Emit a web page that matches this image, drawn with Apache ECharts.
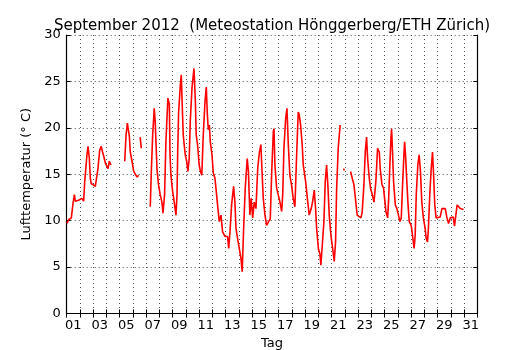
<!DOCTYPE html>
<html>
<head>
<meta charset="utf-8">
<script src="https://cdn.jsdelivr.net/npm/echarts@6/dist/echarts.min.js"></script>
<style>
  html, body { margin: 0; padding: 0; background: #fff; }
  #chart { width: 530px; height: 350px; }
</style>
</head>
<body>
<div id="chart"></div>
<script>
// ---------- data ----------
// day labels (each label sits in the middle of its day band)
const dayLabels = ['01', '02', '03', '04', '05', '06', '07', '08', '09', '10', '11', '12', '13', '14', '15', '16',
  '17', '18', '19', '20', '21', '22', '23', '24', '25', '26', '27', '28', '29', '30', '31'];

// time in days since 1 Sep 00:00 (null temp = data gap)
const days = [
  0.02, 0.15, 0.35, 0.48, 0.58, 0.65, 0.9, 1.15, 1.28, 1.36, 1.53, 1.61, 1.71, 1.78, 1.85, 1.96, 2.16, 2.29, 2.36, 2.49,
  2.61, 2.71, 2.84, 2.92, 3.0, 3.12, 3.22, 3.34, 3.8,
  4.38, 4.48, 4.58, 4.65, 4.73, 4.8, 4.93, 5.06, 5.18, 5.31, 5.43, 5.5,
  5.55, 5.63, 6.0,
  6.31, 6.39, 6.49, 6.61, 6.68, 6.82, 6.94, 7.06, 7.19, 7.27, 7.39, 7.49, 7.56, 7.64, 7.7, 7.75, 7.8, 7.87, 8.0, 8.12,
  8.25, 8.33, 8.38, 8.45, 8.58, 8.65, 8.72, 8.8, 8.87, 8.95, 9.06, 9.15, 9.25, 9.33, 9.46, 9.61, 9.71, 9.78, 9.88, 10.0,
  10.1, 10.2, 10.3, 10.44, 10.54, 10.62, 10.69, 10.77, 10.84, 10.97, 11.07, 11.19, 11.27, 11.39, 11.52, 11.65, 11.77,
  11.95, 12.15, 12.23, 12.33, 12.45, 12.6, 12.7, 12.78, 12.9, 13.03, 13.16, 13.25, 13.36, 13.48, 13.63, 13.72, 13.83,
  13.93, 14.04, 14.16, 14.29, 14.42, 14.55, 14.66, 14.74, 14.84, 14.97, 15.09, 15.24, 15.37, 15.48, 15.6, 15.65, 15.72,
  15.85, 15.97, 16.1, 16.23, 16.31, 16.4, 16.53, 16.63, 16.73, 16.85, 16.98, 17.1, 17.23, 17.36, 17.48, 17.56, 17.66,
  17.78, 17.86, 18.04, 18.17, 18.31, 18.46, 18.56, 18.69, 18.79, 18.87, 19.0, 19.12, 19.19, 19.32, 19.42, 19.52, 19.62,
  19.72, 19.82, 19.95, 20.08, 20.2, 20.3, 20.38, 20.5, 20.58, 20.65, 20.8,
  20.9, 20.96, 21.2,
  21.43, 21.55, 21.68, 21.8, 21.93, 22.06, 22.21, 22.31, 22.44, 22.54, 22.64, 22.72, 22.84, 22.94, 23.07, 23.2, 23.34,
  23.47, 23.53, 23.6, 23.67, 23.8, 23.92, 24.0, 24.1, 24.23, 24.31, 24.38, 24.48, 24.53, 24.6, 24.68, 24.81, 24.93,
  25.06, 25.16, 25.26, 25.36, 25.46, 25.51, 25.58, 25.68, 25.76, 25.86, 26.01, 26.11, 26.23, 26.31, 26.39, 26.51, 26.61,
  26.71, 26.81, 26.93, 27.06, 27.14, 27.24, 27.31, 27.41, 27.52, 27.62, 27.69, 27.79, 27.89, 28.02, 28.2, 28.33, 28.45,
  28.58, 28.71, 28.83, 28.96, 29.08, 29.18, 29.28, 29.38, 29.48, 29.58, 29.71, 29.83, 29.96
];

// air temperature (°C)
const temps = [
  9.7, 10.1, 10.3, 11.9, 12.8, 12.1, 12.2, 12.4, 12.1, 14.2, 17.1, 18.0, 16.7, 14.6, 14.0, 13.9, 13.7, 13.7, 15.6, 17.6,
  18.0, 17.4, 16.7, 16.2, 16.0, 15.6, 16.4, 16.0, null,
  16.4, 19.2, 20.5, 20.7, 19.1, 17.4, 16.4, 15.3, 15.1, 14.7, 14.9, null,
  19.0, 17.8, null,
  11.5, 15.3, 19.2, 22.1, 20.7, 15.5, 13.8, 12.8, 12.0, 10.8, 12.8, 18.5, 20.7, 23.2, 23.4, 22.5, 17.1, 14.9, 13.1, 12.0,
  10.6, 12.8, 17.4, 21.7, 24.6, 25.7, 22.5, 19.2, 18.2, 17.1, 16.4, 15.3, 16.7, 20.7, 24.3, 26.4, 23.0, 19.2, 18.2, 16.0,
  15.3, 14.9, 18.9, 22.8, 24.4, 21.4, 19.8, 20.3, 18.5, 17.1, 15.1, 14.6, 13.5, 11.7, 9.9, 10.6, 8.8,
  8.3, 8.3, 7.0, 8.8, 11.7, 13.7, 12.0, 9.2, 8.1, 7.0, 5.9, 4.5, 9.2, 13.5, 16.7, 15.3, 10.6,
  12.4, 10.3, 12.0, 11.3, 15.6, 17.4, 18.2, 15.6, 12.4, 10.6, 9.5, 9.9, 10.2, 15.3, 19.6, 19.9, 16.0,
  13.5, 12.8, 12.0, 11.0, 12.8, 17.8, 21.0, 22.1, 18.2, 14.9, 13.8, 12.4, 11.5, 17.1, 21.7, 21.4, 20.3,
  18.2, 16.0, 14.2, 12.4, 10.6, 11.3, 12.0, 13.3, 11.3, 9.2, 7.0, 6.4, 5.2, 5.4, 9.9, 14.2, 16.0,
  13.8, 10.6, 8.4, 7.0, 5.6, 7.7, 13.5, 17.8, 19.2, 20.3, null,
  15.6, 15.4, null,
  15.3, 15.1, 13.9, 12.4, 10.6, 10.4, 10.3, 10.9, 13.9, 17.4, 19.0, 16.7, 14.6, 13.5, 12.8, 12.0, 14.2,
  17.8, 18.0, 17.4, 15.6, 13.9, 13.5, 12.4, 11.0, 10.3, 12.4, 15.3, 18.9, 19.9, 17.4, 14.2, 11.7, 11.3,
  11.2, 9.9, 10.3, 13.9, 17.1, 18.5, 17.1, 14.2, 12.0, 9.9, 9.5, 8.4, 7.0, 8.4, 12.8, 16.0, 17.1,
  15.3, 12.0, 10.3, 9.2, 8.1, 7.7, 9.2, 12.8, 15.6, 17.4, 15.3, 11.7, 10.3, 10.3, 10.4, 11.3, 11.5,
  11.3, 10.3, 9.7, 10.3, 10.3, 10.4, 9.4, 10.6, 11.7, 11.9, 11.3, 11.2, 11.2
];

// y axis range
const yMin = 0;
const yMax = 30;
const yStep = 5;
// --------------------------

const seriesData = days.map((d, i) => [d, temps[i] === null ? '-' : temps[i]]);

const font = 'DejaVu Sans';
const gridLine = { show: true, lineStyle: { color: '#222', type: [1, 3], width: 0.8 } };
const frame = { show: true, lineStyle: { color: '#000', width: 1.2 } };

const chart = echarts.init(document.getElementById('chart'), null, { renderer: 'canvas' });

chart.setOption({
  backgroundColor: '#fff',
  animation: false,
  title: {
    text: 'September 2012  (Meteostation Hönggerberg/ETH Zürich)',
    left: 267,
    textAlign: 'center',
    top: 14,
    textStyle: { fontFamily: font, fontSize: 15, fontWeight: 'normal', color: '#000' },
  },
  grid: { left: 66.7, right: 52.7, top: 35, bottom: 36.5, containLabel: false, outerBoundsMode: 'none' },
  xAxis: [
    {
      // day bands: labels, ticks, vertical grid
      type: 'category',
      position: 'bottom',
      data: dayLabels,
      boundaryGap: true,
      name: 'Tag',
      nameLocation: 'middle',
      nameGap: 24,
      nameTextStyle: { fontFamily: font, fontSize: 13, color: '#000' },
      axisLine: frame,
      axisTick: { show: true, inside: true, interval: 0, length: 4, lineStyle: { color: '#000' } },
      axisLabel: { interval: 1, margin: 6, fontFamily: font, fontSize: 13, color: '#000' },
      splitLine: { ...gridLine, interval: 0 },
    },
    {
      // top frame with ticks
      type: 'category',
      position: 'top',
      data: dayLabels,
      boundaryGap: true,
      axisLine: frame,
      axisTick: { show: true, inside: true, interval: 0, length: 4, lineStyle: { color: '#000' } },
      axisLabel: { show: false },
      splitLine: { show: false },
    },
    {
      // hidden time axis used by the series
      type: 'value',
      min: 0,
      max: 31,
      show: false,
    },
  ],
  yAxis: [
    {
      type: 'value',
      position: 'left',
      min: yMin,
      max: yMax,
      interval: yStep,
      name: 'Lufttemperatur (° C)',
      nameLocation: 'middle',
      nameGap: 28,
      nameTextStyle: { fontFamily: font, fontSize: 13, color: '#000' },
      axisLine: frame,
      axisTick: { show: true, inside: true, length: 4, lineStyle: { color: '#000' } },
      axisLabel: { margin: 6, fontFamily: font, fontSize: 13, color: '#000' },
      splitLine: gridLine,
    },
    {
      type: 'value',
      position: 'right',
      min: yMin,
      max: yMax,
      interval: yStep,
      axisLine: frame,
      axisTick: { show: true, inside: true, length: 4, lineStyle: { color: '#000' } },
      axisLabel: { show: false },
      splitLine: { show: false },
    },
  ],
  series: [
    {
      type: 'line',
      xAxisIndex: 2,
      yAxisIndex: 0,
      data: seriesData,
      showSymbol: false,
      connectNulls: false,
      lineStyle: { color: '#ff0000', width: 1.6 },
      z: 5,
    },
  ],
});
</script>
</body>
</html>
